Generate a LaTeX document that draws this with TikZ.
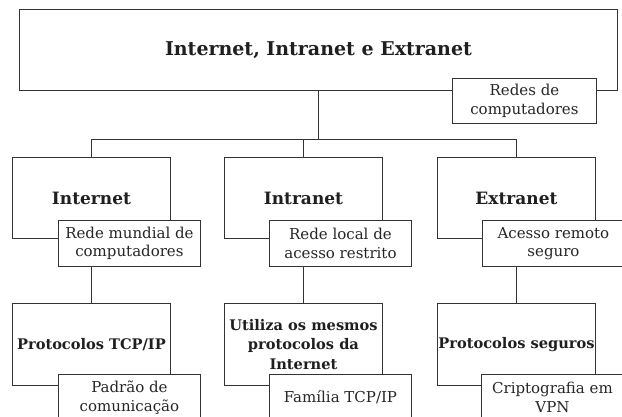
\documentclass[tikz,border=0pt]{standalone}
\usepackage{fontspec}
\setmainfont{DejaVu Serif}
\begin{document}
\begin{tikzpicture}[x=1pt,y=-1pt,
  bigbox/.style={draw=black!80,line width=0.9pt,fill=white,align=center,text=black!88,
    font=\bfseries\fontsize{17}{20}\selectfont,anchor=north west,inner sep=1pt,
    minimum width=158pt,minimum height=81pt},
  lowbox/.style={bigbox,minimum height=82pt,font=\bfseries\fontsize{14.6}{19.5}\selectfont},
  notebox/.style={draw=black!80,line width=0.9pt,fill=white,align=center,text=black!85,
    font=\fontsize{15}{18.5}\selectfont,anchor=north west,inner sep=1pt,
    minimum width=142pt,minimum height=46pt},
  link/.style={draw=black!80,line width=0.9pt}]
\useasboundingbox (0,0) rectangle (622,416);

% topo
\node[bigbox,minimum width=598pt,font=\bfseries\fontsize{19}{22}\selectfont] (title) at (19,9) {Internet, Intranet e Extranet};
\node[notebox,minimum width=144pt,minimum height=45pt] (redes) at (452,78) {Redes de\\computadores};

% nivel 2
\node[bigbox] (inet) at (12,157) {Internet};
\node[bigbox] (intra) at (224,157) {Intranet};
\node[bigbox] (extra) at (437,157) {Extranet};
\node[notebox] (inetnote) at (58,220) {Rede mundial de\\computadores};
\node[notebox] (intranote) at (269,220) {Rede local de\\acesso restrito};
\node[notebox] (extranote) at (482,220) {Acesso remoto\\seguro};

% nivel 3
\node[lowbox] (tcp) at (12,303) {Protocolos TCP/IP};
\node[lowbox] (mesmos) at (224,303) {Utiliza os mesmos\\protocolos da\\Internet};
\node[lowbox] (seguros) at (437,303) {Protocolos seguros};
\node[notebox] (tcpnote) at (58,374) {Padrão de\\comunicação};
\node[notebox] (mesmosnote) at (269,374) {Família TCP/IP};
\node[notebox] (segurosnote) at (481,374) {Criptografia em\\VPN};

% ligacoes
\coordinate (bus) at (318,139);
\draw[link] (title.south) -- (title.south |- bus);
\draw[link] (inet.north) |- (extra.north |- bus) -- (extra.north);
\draw[link] (intra.north) -- (intra.north |- bus);
\draw[link] (inetnote.south -| tcp.north) -- (tcp.north);
\draw[link] (intranote.south -| mesmos.north) -- (mesmos.north);
\draw[link] (extranote.south -| seguros.north) -- (seguros.north);
\end{tikzpicture}
\end{document}
